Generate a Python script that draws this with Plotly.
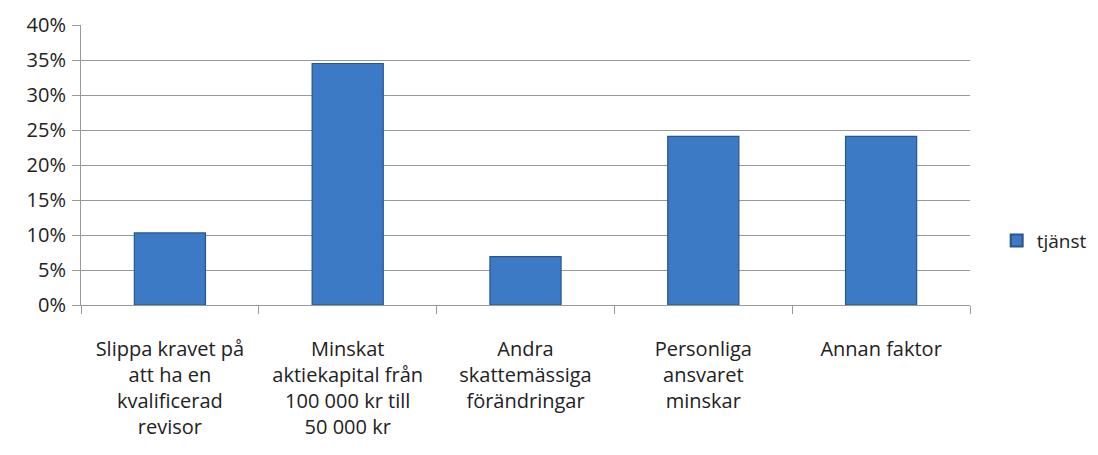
import plotly.graph_objects as go

categories = [
    "Slippa kravet på<br>att ha en<br>kvalificerad<br>revisor",
    "Minskat<br>aktiekapital från<br>100 000 kr till<br>50 000 kr",
    "Andra<br>skattemässiga<br>förändringar",
    "Personliga<br>ansvaret<br>minskar",
    "Annan faktor",
]
values = [0.103, 0.345, 0.069, 0.241, 0.241]
series_name = "tjänst"
y_ticks = [0, 0.05, 0.10, 0.15, 0.20, 0.25, 0.30, 0.35, 0.40]
y_tick_labels = ["0%", "5%", "10%", "15%", "20%", "25%", "30%", "35%", "40%"]

font_family = "'Open Sans', Lato, sans-serif"

fig = go.Figure()
fig.add_trace(go.Bar(
    x=categories,
    y=values,
    name=series_name,
    width=0.4,
    marker=dict(color="#3D7AC5", line=dict(color="#28558E", width=1.2)),
    showlegend=True,
))

fig.update_layout(
    width=1098,
    height=455,
    margin=dict(l=81, r=128, t=25, b=150, autoexpand=False),
    plot_bgcolor="white",
    paper_bgcolor="white",
    font=dict(family=font_family, size=20, color="#222222"),
    showlegend=True,
    legend=dict(
        x=1.03, y=0.23, xanchor="left", yanchor="middle",
        font=dict(size=19), itemsizing="constant",
        itemwidth=30, tracegroupgap=0,
    ),
    xaxis=dict(
        type="category",
        tickson="boundaries",
        ticks="outside",
        ticklen=8,
        tickcolor="#999999",
        showline=True,
        linecolor="#999999",
        showgrid=False,
        tickfont=dict(size=20),
        ticklabelstandoff=26,
    ),
    yaxis=dict(
        range=[0, 0.40],
        tickvals=y_ticks,
        ticktext=y_tick_labels,
        ticks="outside",
        ticklen=8,
        tickcolor="#999999",
        showline=True,
        linecolor="#999999",
        showgrid=True,
        gridcolor="#999999",
        gridwidth=1,
        zeroline=False,
        tickfont=dict(size=20),
        ticklabelstandoff=2,
    ),
)

fig.write_html("out.html")
